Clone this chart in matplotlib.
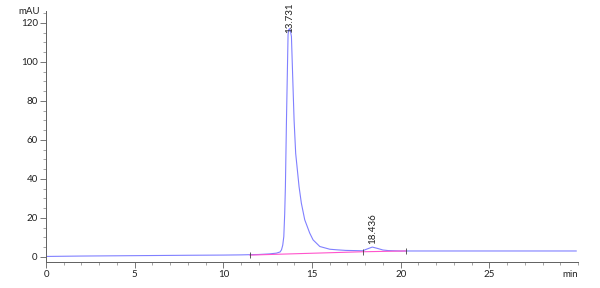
import matplotlib
matplotlib.use("Agg")
import matplotlib.pyplot as plt
from matplotlib.ticker import MultipleLocator

plt.rcParams['font.family'] = ['Lato', 'DejaVu Sans']

# Chromatogram trace (time in min, signal in mAU)
times = [0, 2, 5, 8, 10, 11, 12, 12.6, 13.0, 13.2, 13.28, 13.35, 13.41, 13.46,
         13.5, 13.56, 13.65, 13.69, 13.73, 13.78, 13.84, 13.93, 13.99, 14.08,
         14.27, 14.4, 14.59, 14.87, 15.06, 15.44, 16.0, 16.4, 16.9, 17.4, 17.85,
         18.1, 18.4, 18.7, 19.0, 19.3, 20, 22, 25, 28, 29.9]
signal = [0.2, 0.4, 0.6, 0.8, 0.9, 1.0, 1.2, 1.5, 1.9, 2.5, 3.6, 6.0, 10.4, 22,
          36, 70, 114, 116.5, 117, 116, 113, 87, 70, 53,
          36, 27.5, 19, 12.2, 8.7, 5.3, 3.9, 3.6, 3.3, 3.2, 3.1,
          4.0, 5.0, 4.3, 3.5, 3.2, 3.0, 3.0, 3.0, 3.0, 3.0]

# Integration baseline
base_t = [11.5, 17.85, 20.3]
base_v = [0.9, 2.6, 3.0]

# Peak labels
peak_t = [13.731, 18.436]
peak_v = [117, 5.0]
peak_labels = ["13.731", "18.436"]
label_offsets = [-3, 2]

x_ticks = [0, 5, 10, 15, 20, 25]
y_ticks = [0, 20, 40, 60, 80, 100, 120]

fig = plt.figure(figsize=(6, 2.88), dpi=100)
ax = fig.add_axes([0.0767, 0.0913, 0.8866, 0.870])

ax.plot(times, signal, color='#8080ff', lw=0.8)
ax.plot(base_t, base_v, color='#ff55cc', lw=0.8)
ax.plot(base_t, base_v, ls='none', marker='|', ms=4, mew=0.6, color='#404040')

for t, v, lab, off in zip(peak_t, peak_v, peak_labels, label_offsets):
    ax.annotate(lab, (t, v), xytext=(0, off), textcoords='offset points',
                rotation=90, ha='center', va='bottom', fontsize=7, color='#202020')

ax.set_xlim(0, 30)
ax.set_ylim(-2.5, 126)
ax.set_xticks(x_ticks)
ax.set_yticks(y_ticks)
ax.xaxis.set_minor_locator(MultipleLocator(1))
ax.yaxis.set_minor_locator(MultipleLocator(5))

for s in ['top', 'right']:
    ax.spines[s].set_visible(False)
for s in ['left', 'bottom']:
    ax.spines[s].set_color('#606060')
    ax.spines[s].set_linewidth(0.7)

ax.tick_params(which='major', length=4, width=0.6, color='#606060', labelsize=7,
               pad=2, labelcolor='#202020')
ax.tick_params(which='minor', length=2.5, width=0.5, color='#808080')

ax.text(-0.012, 126, 'mAU', transform=ax.get_yaxis_transform(), ha='right',
        va='center', fontsize=7, color='#202020')
ax.text(1.0, -0.033, 'min', transform=ax.transAxes, ha='right', va='top',
        fontsize=7, color='#202020')

fig.savefig('out.png', dpi=100)
